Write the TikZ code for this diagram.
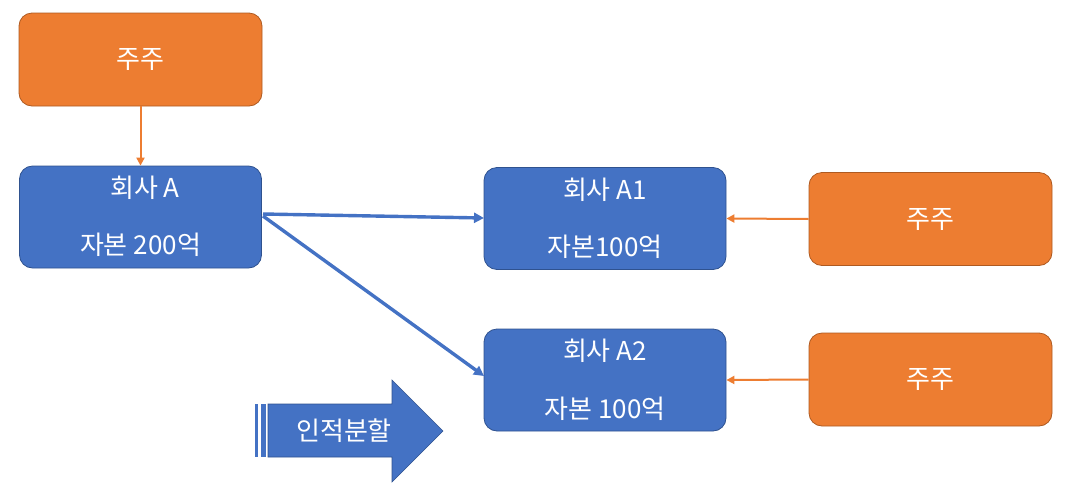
\documentclass[tikz,border=0pt]{standalone}
\usepackage{fontspec}
\setmainfont{Noto Sans CJK KR}
\usetikzlibrary{arrows.meta,shapes.arrows}
\definecolor{obox}{HTML}{ED7D31}
\definecolor{oline}{HTML}{AE5A21}
\definecolor{bbox}{HTML}{4472C4}
\definecolor{bline}{HTML}{2F528F}
\tikzset{
  orangebox/.style={draw=oline, fill=obox, rounded corners=13pt, line width=0.8pt, minimum width=243pt, minimum height=93pt, inner sep=0pt, text=white, font=\fontsize{26}{30}\selectfont},
  bluebox/.style={draw=bline, fill=bbox, rounded corners=13pt, line width=0.8pt, minimum width=242pt, minimum height=102pt, inner sep=0pt},
  boxtext/.style={text=white, font=\fontsize{26}{30}\selectfont, inner sep=0pt},
  oarrow/.style={draw=obox, line width=2pt, -{Triangle[length=8pt,width=8pt]}},
  barrow/.style={draw=bbox, line width=3.4pt, -{Triangle[length=10pt,width=10pt]}},
}
\begin{document}
\begin{tikzpicture}[x=1pt,y=-1pt]
\useasboundingbox (0,0) rectangle (1072,496);
% shareholders
\node[orangebox] (s0) at (140.5,59.5) {주주};
\node[orangebox] (s1) at (930.5,219) {주주};
\node[orangebox] (s2) at (930.5,379.5) {주주};
% companies
\node[bluebox] (a) at (140.5,217) {};
\node[boxtext] (at) at (145,188) {회사 A};
\node[boxtext] (ac) at (140.5,245) {자본 200억};
\node[bluebox] (a1) at (605,218.5) {};
\node[boxtext] (a1t) at (605,190) {회사 A1};
\node[boxtext] (a1c) at (605,247) {자본100억};
\node[bluebox] (a2) at (605,380) {};
\node[boxtext] (a2t) at (605,351) {회사 A2};
\node[boxtext] (a2c) at (605,409) {자본 100억};
% connectors
\draw[oarrow] (s0.south) -- (a.north);
\draw[oarrow] (s1.west) -- (a1.east);
\draw[oarrow] (s2.west) -- (a2.east);
\coordinate (p1) at (263,214);
\coordinate (p2) at (263,216);
\coordinate (q1) at (484,218);
\coordinate (q2) at (484,376);
\draw[barrow] (p1) -- (q1);
\draw[barrow] (p2) -- (q2);
% striped block arrow
\fill[bbox, draw=bline, line width=0.6pt] (268,404) -- (392,404) -- (392,380) -- (443,431) -- (392,482) -- (392,457) -- (268,457) -- cycle;
\fill[bbox] (255,404) rectangle (258,457);
\fill[bbox] (260.5,404) rectangle (265.5,457);
\node[boxtext] (split) at (344,431) {인적분할};
\end{tikzpicture}
\end{document}
